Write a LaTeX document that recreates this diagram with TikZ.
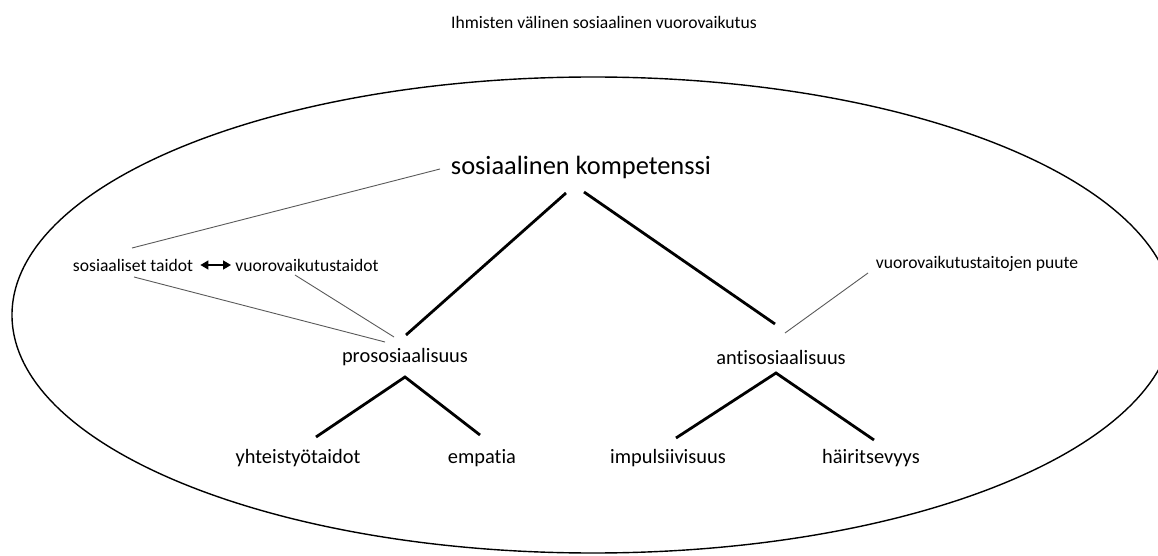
\documentclass[tikz,border=0pt]{standalone}
\usepackage{fontspec}
\setmainfont{Carlito}[Ligatures=NoCommon]
\usetikzlibrary{calc, arrows.meta, positioning}

\begin{document}
\begin{tikzpicture}[x=0.5pt, y=-0.5pt, inner sep=2pt,
    lbl/.style={font=\fontsize{8.8}{10}\selectfont},
    mid/.style={font=\fontsize{10.2}{12}\selectfont},
    big/.style={font=\fontsize{13.2}{15}\selectfont},
    branch/.style={line width=1.4pt},
    link/.style={line width=0.45pt, black!65}]
    \useasboundingbox (0,0) rectangle (1158,556);
    \node[lbl] (title) at (604,22) {Ihmisten välinen sosiaalinen vuorovaikutus};
    \draw[line width=0.7pt] (593,315) ellipse [x radius=290.5pt, y radius=119pt];

    \node[big] (komp)  at (581,167) {sosiaalinen kompetenssi};
    \node[lbl] (st)    at (133,265) {sosiaaliset taidot};
    \node[lbl] (vt)    at (307,265) {vuorovaikutustaidot};
    \node[lbl] (vtp)   at (977,264) {vuorovaikutustaitojen puute};
    \node[mid] (proso) at (405,357) {prososiaalisuus};
    \node[mid] (anti)  at (781,357) {antisosiaalisuus};
    \node[mid] (yht)   at (298,458) {yhteistyötaidot};
    \node[mid] (emp)   at (482,458) {empatia};
    \node[mid] (imp)   at (668,458) {impulsiivisuus};
    \node[mid] (hai)   at (871,458) {häiritsevyys};

    \draw[{Triangle[length=4pt,width=4.5pt]}-{Triangle[length=4pt,width=4.5pt]}, line width=0.7pt,
        shorten <=1.5pt] (st.east) -- (vt.west);

    \draw[branch] ($(komp)+(-15,26)$) -- ($(proso)+(1,-22)$);
    \draw[branch] ($(komp)+(3,25)$) -- ($(anti)+(-6,-33)$);
    \draw[branch] ($(yht)+(18,-21)$) -- ($(proso)+(0,20)$) -- ($(emp)+(-2,-23)$);
    \draw[branch] ($(imp)+(8,-20)$) -- ($(anti)+(-5,16)$) -- ($(hai)+(3,-18)$);

    \draw[link] ($(st)+(-1,-17)$) -- ($(komp)+(-141,2)$);
    \draw[link] ($(st)+(1,12)$) -- ($(proso)+(-20,-15)$);
    \draw[link] ($(vt)+(-12,10)$) -- ($(proso)+(-11,-20)$);
    \draw[link] ($(vtp)+(-109,9)$) -- ($(anti)+(4,-24)$);
  \end{tikzpicture}
\end{document}
